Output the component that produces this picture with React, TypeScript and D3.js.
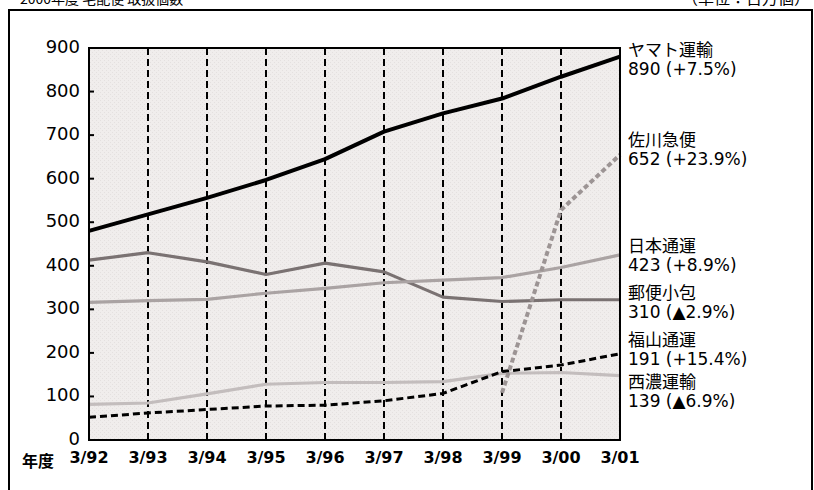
import React from "react";
import * as d3 from "d3";

const years = ["3/92", "3/93", "3/94", "3/95", "3/96", "3/97", "3/98", "3/99", "3/00", "3/01"];
const yTicks = [0, 100, 200, 300, 400, 500, 600, 700, 800, 900];

const yamato = [480, 518, 556, 597, 645, 708, 750, 784, 834, 880];
const sagawa: (number | null)[] = [null, null, null, null, null, null, null, 108, 528, 655];
const yubin = [413, 430, 409, 380, 406, 386, 328, 318, 322, 322];
const nittsu = [316, 320, 323, 337, 348, 361, 367, 373, 396, 425];
const fukuyama = [52, 62, 70, 78, 80, 90, 107, 157, 172, 198];
const seino = [82, 85, 106, 128, 132, 132, 134, 153, 155, 148];

const labelNames = ["ヤマト運輸", "佐川急便", "日本通運", "郵便小包", "福山通運", "西濃運輸"];
const labelValues = ["890 (+7.5%)", "652 (+23.9%)", "423 (+8.9%)", "310 (▲2.9%)", "191 (+15.4%)", "139 (▲6.9%)"];
const labelTops = [56, 146, 252, 299, 346, 388];

export default function App() {
  const W = 814, H = 490;
  const left = 89, right = 620, top = 48, bottom = 440;
  const x = d3.scaleLinear().domain([0, years.length - 1]).range([left, right]);
  const y = d3.scaleLinear().domain([0, 900]).range([bottom, top]);
  const line = d3
    .line<number | null>()
    .defined((d) => d !== null)
    .x((_, i) => x(i))
    .y((d) => y(d as number));

  const series = [
    { data: yamato, stroke: "#000", w: 4, dash: undefined },
    { data: yubin, stroke: "#7a7272", w: 3.2, dash: undefined },
    { data: nittsu, stroke: "#aaa3a3", w: 3.2, dash: undefined },
    { data: seino, stroke: "#c3bdbd", w: 3.2, dash: undefined },
    { data: fukuyama, stroke: "#000", w: 3, dash: "7,4" },
    { data: sagawa, stroke: "#9c9494", w: 4, dash: "5,3" },
  ];

  const jp = "'Noto Sans CJK JP', sans-serif";
  const num = "'DejaVu Sans', sans-serif";

  return (
    <svg width={W} height={H} style={{ position: "absolute", left: 0, top: 0, background: "#fff" }}>
      <defs>
        <pattern id="hatch" width="4" height="4" patternUnits="userSpaceOnUse">
          <rect width="4" height="4" fill="#f0edec" />
          <rect x="0" y="0" width="1" height="1" fill="#e4e0df" />
          <rect x="2" y="2" width="1" height="1" fill="#e4e0df" />
        </pattern>
      </defs>
      <text x={20} y={4} fontFamily={jp} fontSize={14} fill="#000">2000年度 宅配便 取扱個数</text>
      <text x={810} y={4} fontFamily={jp} fontSize={16} textAnchor="end" fill="#000">（単位：百万個）</text>
      <rect x={9} y={10} width={803} height={490} fill="none" stroke="#000" strokeWidth={2} />
      <rect x={left} y={top} width={right - left} height={bottom - top} fill="url(#hatch)" />
      {years.slice(1, -1).map((_, k) => (
        <line key={k} x1={x(k + 1)} x2={x(k + 1)} y1={top} y2={bottom} stroke="#000" strokeWidth={2} strokeDasharray="7,4" />
      ))}
      {yTicks.slice(1, -1).map((t) => (
        <line key={t} x1={left} x2={left + 5} y1={y(t)} y2={y(t)} stroke="#000" strokeWidth={2} />
      ))}
      {series.map((s, i) => (
        <path key={i} d={line(s.data as (number | null)[]) || ""} fill="none" stroke={s.stroke} strokeWidth={s.w} strokeDasharray={s.dash} strokeLinejoin="round" />
      ))}
      <rect x={left} y={top} width={right - left} height={bottom - top} fill="none" stroke="#000" strokeWidth={2} />
      {yTicks.map((t) => (
        <text key={t} x={80} y={y(t) + 5} fontFamily={num} fontSize={18} textAnchor="end" fill="#000">{t}</text>
      ))}
      <text x={22} y={467} fontFamily={jp} fontSize={16} fontWeight="bold" fill="#000">年度</text>
      {years.map((yr, i) => (
        <text key={yr} x={x(i)} y={463} fontFamily={num} fontSize={16} fontWeight="bold" textAnchor="middle" fill="#000">{yr}</text>
      ))}
      {labelNames.map((n, i) => (
        <g key={n}>
          <text x={628} y={labelTops[i]} fontFamily={jp} fontSize={17} fill="#000">{n}</text>
          <text x={628} y={labelTops[i] + 19} fontFamily={num} fontSize={17} fill="#000">{labelValues[i]}</text>
        </g>
      ))}
    </svg>
  );
}
